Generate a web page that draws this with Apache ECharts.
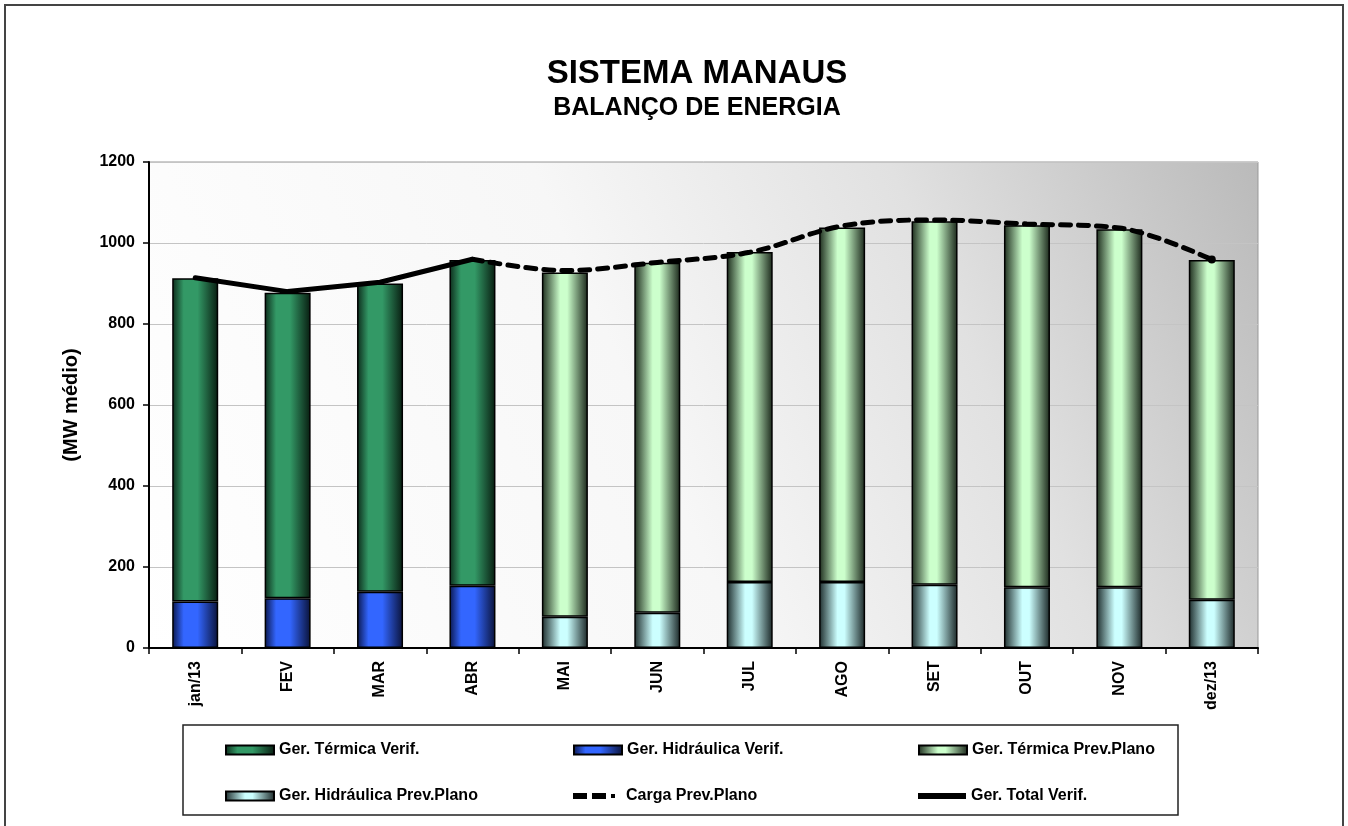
<!DOCTYPE html>
<html>
<head>
<meta charset="utf-8">
<script src="https://cdn.jsdelivr.net/npm/echarts@6/dist/echarts.min.js"></script>
<style>
  html, body { margin: 0; padding: 0; background: #fff; }
  #chart { width: 1348px; height: 826px; }
</style>
</head>
<body>
<div id="chart"></div>
<script>
// meses
var months = ['jan/13', 'FEV', 'MAR', 'ABR', 'MAI', 'JUN', 'JUL', 'AGO', 'SET', 'OUT', 'NOV', 'dez/13']
// geração verificada (jan-abr)
var termVerif = [798, 754, 761, 804, '-', '-', '-', '-', '-', '-', '-', '-']
var hidroVerif = [115, 123, 139, 154, '-', '-', '-', '-', '-', '-', '-', '-']
// geração prevista no plano (mai-dez)
var termPrev = ['-', '-', '-', '-', 850, 864, 815, 875, 898, 894, 884, 839]
var hidroPrev = ['-', '-', '-', '-', 77, 87, 163, 163, 156, 150, 150, 119]
// linhas
var cargaPrev = ['-', '-', '-', 960, 932, 952, 977, 1042, 1057, 1047, 1037, 959]
var totalVerif = [914, 880, 903, 960, '-', '-', '-', '-', '-', '-', '-', '-']
var yTicks = [0, 200, 400, 600, 800, 1000, 1200]

var FONT = 'Arial, "Liberation Sans", sans-serif'

// gradiente horizontal "cilindro": bordas escuras, centro claro
function barGrad(edgeL, mid, edgeR, a, b) {
  return new echarts.graphic.LinearGradient(0, 0, 1, 0, [
    { offset: 0, color: edgeL },
    { offset: a, color: mid },
    { offset: b, color: mid },
    { offset: 1, color: edgeR }
  ])
}

var chart = echarts.init(document.getElementById('chart'))

// icones da legenda para as linhas
var ICON_SOLID = 'path://M0,0H48V6H0Z'
var ICON_DASH = 'path://M0,0H14V6H0Z M19,0H33V6H19Z M38,1H42V5H38Z M0,0H0.01V6H0Z M48,0H48.01V6H48Z'

function legendAt(name, left, top, icon) {
  return {
    data: [{ name: name, icon: icon || 'rect' }],
    left: left,
    top: top,
    padding: 0,
    itemWidth: 48,
    itemHeight: icon ? 6 : 9,
    itemGap: 4,
    symbolKeepAspect: false,
    textStyle: { fontFamily: FONT, fontWeight: 'bold', fontSize: 16, color: '#000' },
    selectedMode: false
  }
}

var cargaData = cargaPrev.map(function(v, i) {
  if (i === cargaPrev.length - 1) {
    return { value: v, symbol: 'circle', symbolSize: 8 }
  }
  return v
})

chart.setOption({
  animation: false,
  backgroundColor: '#fff',
  title: [{
    text: 'SISTEMA MANAUS',
    left: 692,
    top: 52,
    textAlign: 'center',
    textStyle: { fontFamily: FONT, fontWeight: 'bold', fontSize: 33, color: '#000' }
  }, {
    text: 'BALANÇO DE ENERGIA',
    left: 692,
    top: 91,
    textAlign: 'center',
    textStyle: { fontFamily: FONT, fontWeight: 'bold', fontSize: 25, color: '#000' }
  }],
  graphic: [{
    type: 'rect',
    shape: { x: 5, y: 5, width: 1338, height: 830 },
    style: { fill: 'none', stroke: '#444', lineWidth: 2 },
    z: -1
  }, {
    type: 'rect',
    shape: { x: 183, y: 725, width: 995, height: 90 },
    style: { fill: 'none', stroke: '#222', lineWidth: 1.5 },
    z: -1
  }],
  legend: [
    legendAt('Ger. Térmica Verif.', 225, 742),
    legendAt('Ger. Hidráulica Verif.', 573, 742),
    legendAt('Ger. Térmica Prev.Plano', 918, 742),
    legendAt('Ger. Hidráulica Prev.Plano', 225, 788),
    legendAt('Carga Prev.Plano', 573, 788, ICON_DASH),
    legendAt('Ger. Total Verif.', 918, 788, ICON_SOLID)
  ],
  grid: {
    left: 149,
    right: 90,
    top: 162,
    bottom: 178,
    show: true,
    borderColor: '#999',
    borderWidth: 1,
    backgroundColor: new echarts.graphic.LinearGradient(0, 1, 1, 0, [
      { offset: 0, color: '#ffffff' },
      { offset: 0.45, color: '#f7f7f7' },
      { offset: 0.72, color: '#e1e1e1' },
      { offset: 1, color: '#bababa' }
    ])
  },
  xAxis: {
    type: 'category',
    data: months,
    axisLine: { lineStyle: { color: '#000', width: 2 } },
    axisTick: { show: true, length: 6, lineStyle: { color: '#000', width: 1.5 } },
    axisLabel: {
      rotate: 90,
      margin: 13,
      interval: 0,
      fontFamily: FONT,
      fontWeight: 'bold',
      fontSize: 16,
      color: '#000'
    }
  },
  yAxis: {
    type: 'value',
    min: yTicks[0],
    max: yTicks[yTicks.length - 1],
    interval: 200,
    name: '(MW médio)',
    nameLocation: 'middle',
    nameGap: 68,
    nameTextStyle: { fontFamily: FONT, fontWeight: 'bold', fontSize: 20, color: '#000' },
    axisLine: { show: true, lineStyle: { color: '#000', width: 2 } },
    axisTick: { show: true, length: 6, lineStyle: { color: '#000', width: 1.5 } },
    axisLabel: {
      margin: 14,
      fontFamily: FONT,
      fontWeight: 'bold',
      fontSize: 16,
      color: '#000',
      formatter: function(v) { return String(v) }
    },
    splitLine: { lineStyle: { color: '#c4c4c4', width: 1 } }
  },
  series: [{
    name: 'Ger. Hidráulica Verif.',
    type: 'bar',
    stack: 'verif',
    barWidth: 46,
    barGap: '-100%',
    data: hidroVerif,
    itemStyle: {
      color: barGrad('#0a164a', '#3366ff', '#0a1238', 0.25, 0.55),
      borderColor: '#000',
      borderWidth: 1.5
    }
  }, {
    name: 'Ger. Térmica Verif.',
    type: 'bar',
    stack: 'verif',
    barWidth: 46,
    data: termVerif,
    itemStyle: {
      color: barGrad('#0c2a1a', '#339966', '#081c10', 0.25, 0.55),
      borderColor: '#000',
      borderWidth: 1.5
    }
  }, {
    name: 'Ger. Hidráulica Prev.Plano',
    type: 'bar',
    stack: 'prev',
    barWidth: 46,
    barGap: '-100%',
    data: hidroPrev,
    itemStyle: {
      color: barGrad('#1c2b2b', '#ccffff', '#1a2626', 0.4, 0.55),
      borderColor: '#000',
      borderWidth: 1.5
    }
  }, {
    name: 'Ger. Térmica Prev.Plano',
    type: 'bar',
    stack: 'prev',
    barWidth: 46,
    data: termPrev,
    itemStyle: {
      color: barGrad('#1c2b1c', '#ccffcc', '#1a261a', 0.4, 0.55),
      borderColor: '#000',
      borderWidth: 1.5
    }
  }, {
    name: 'Carga Prev.Plano',
    type: 'line',
    smooth: 0.35,
    symbol: 'none',
    data: cargaData,
    itemStyle: { color: '#000' },
    lineStyle: { color: '#000', width: 5, type: [10, 8], cap: 'round' },
    z: 5
  }, {
    name: 'Ger. Total Verif.',
    type: 'line',
    symbol: 'none',
    data: totalVerif,
    itemStyle: { color: '#000' },
    lineStyle: { color: '#000', width: 5, cap: 'round' },
    z: 6
  }]
})
</script>
</body>
</html>
